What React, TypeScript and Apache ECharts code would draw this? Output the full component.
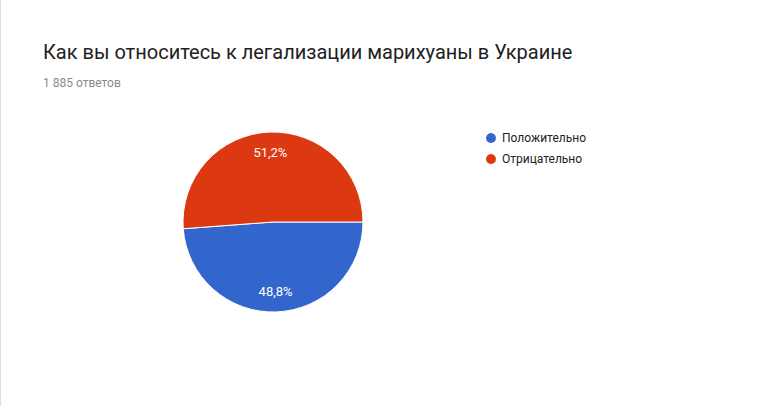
import React, { useEffect, useRef } from 'react';
import * as echarts from 'echarts';

const titleText = 'Как вы относитесь к легализации марихуаны в Украине';
const subtitleText = '1 885 ответов';
const categories = ['Положительно', 'Отрицательно'];
const counts = [920, 965];
const colors = ['#3366cc', '#dc3912'];

const App = () => {
  const chartRef = useRef<HTMLDivElement>(null);

  useEffect(() => {
    document.body.style.margin = '0';
    if (!chartRef.current) return;

    const chart = echarts.init(chartRef.current, null, { renderer: 'svg' });

    const data = categories.map((name, i) => ({
      name,
      value: counts[i],
      itemStyle: { color: colors[i] }
    }));

    const option = {
      animation: false,
      title: [
        {
          text: titleText,
          left: 37,
          top: 37,
          textStyle: { fontFamily: 'Roboto', fontSize: 20, fontWeight: 'normal', color: '#212121' }
        },
        {
          text: subtitleText,
          left: 37,
          top: 72,
          textStyle: { fontFamily: 'Roboto', fontSize: 12, fontWeight: 'normal', color: '#8a8a8a' }
        }
      ],
      legend: {
        orient: 'vertical',
        left: 478,
        top: 126,
        icon: 'circle',
        itemWidth: 12,
        itemHeight: 12,
        itemGap: 7,
        textStyle: { fontFamily: 'Roboto', fontSize: 12, color: '#222' },
        data: categories
      },
      series: [
        {
          type: 'pie',
          center: [272, 222],
          radius: 90,
          startAngle: 0,
          clockwise: true,
          label: { show: false },
          itemStyle: { borderColor: '#fff', borderWidth: 1 },
          emphasis: { disabled: true },
          data
        },
        {
          // transparent ring only for placing the percentage labels
          type: 'pie',
          center: [272, 222],
          radius: [44, 90],
          startAngle: 0,
          clockwise: true,
          silent: true,
          itemStyle: { color: 'transparent' },
          label: {
            show: true,
            position: 'inside',
            fontFamily: 'Roboto',
            fontSize: 13,
            color: '#fff',
            formatter: (p: any) => p.percent.toFixed(1).replace('.', ',') + '%'
          },
          emphasis: { disabled: true },
          data: categories.map((name, i) => ({ name, value: counts[i] }))
        }
      ]
    };

    chart.setOption(option as any);

    return () => {
      chart.dispose();
    };
  }, []);

  return (
    <div
      ref={chartRef}
      style={{ width: '769px', height: '406px', borderLeft: '1px solid #dcdcdc', boxSizing: 'border-box' }}
    />
  );
};

export default App;
